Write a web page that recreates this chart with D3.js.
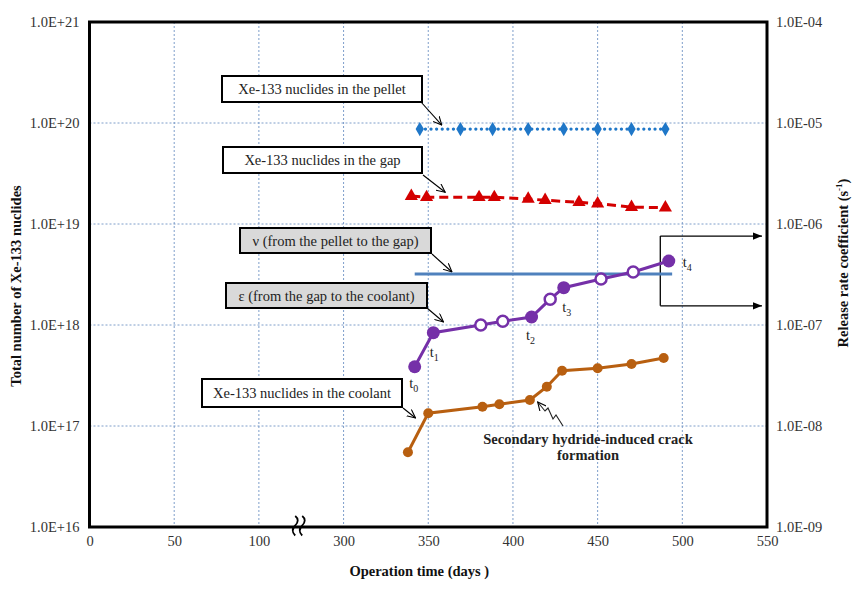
<!DOCTYPE html>
<html><head><meta charset="utf-8">
<script src="https://cdn.jsdelivr.net/npm/d3@7"></script>
<style>
body{margin:0;background:#fff}
</style>
</head><body>
<svg id="c" width="868" height="594"></svg>
<script>
// ---------------- data ----------------
const xTickLabels = [0, 50, 100, 300, 350, 400, 450, 500, 550];
const leftTicks = [1e16, 1e17, 1e18, 1e19, 1e20, 1e21];
const leftTickLabels = ["1.0E+16","1.0E+17","1.0E+18","1.0E+19","1.0E+20","1.0E+21"];
const rightTicks = [1e-9, 1e-8, 1e-7, 1e-6, 1e-5, 1e-4];
const rightTickLabels = ["1.0E-09","1.0E-08","1.0E-07","1.0E-06","1.0E-05","1.0E-04"];

const pelletDays = [345, 369, 388, 409, 430, 450, 470, 490];
const pelletVals = [8.7e19, 8.7e19, 8.7e19, 8.7e19, 8.7e19, 8.7e19, 8.7e19, 8.7e19];

const gapDays = [340, 349, 380, 389, 409, 419, 439, 450, 470, 490];
const gapVals = [1.89e19, 1.84e19, 1.84e19, 1.84e19, 1.77e19, 1.72e19, 1.64e19, 1.59e19, 1.47e19, 1.45e19];

const nuDays = [342, 494];
const nuVals = [3.2e-7, 3.2e-7];

const epsDays = [342, 353, 381, 394, 411, 422, 430, 452, 471, 492];
const epsVals = [3.86e-8, 8.4e-8, 1.0e-7, 1.09e-7, 1.2e-7, 1.8e-7, 2.34e-7, 2.85e-7, 3.35e-7, 4.3e-7];
const epsFilled = [true, true, false, false, true, false, true, false, false, true];
const epsLabels = ["0", "1", null, null, "2", null, "3", null, null, "4"];

const coolDays = [338, 350, 382, 392, 410, 420, 429, 450, 470, 489];
const coolVals = [5.5e16, 1.34e17, 1.55e17, 1.64e17, 1.81e17, 2.45e17, 3.53e17, 3.73e17, 4.11e17, 4.71e17];

// ---------------- font pick ----------------
function pickFont(cands) {
  const c = document.createElement("canvas").getContext("2d");
  const s = "abcdefghijklmnopqrstuvwxyzWMil0123456789";
  for (const f of cands) {
    c.font = `20px "${f}", monospace`; const w1 = c.measureText(s).width;
    c.font = `20px "${f}", sans-serif`; const w2 = c.measureText(s).width;
    if (Math.abs(w1 - w2) < 0.01) return `"${f}"`;
  }
  return "serif";
}
const FONT = pickFont(["Liberation Serif", "Times New Roman", "Tinos", "Nimbus Roman", "DejaVu Serif", "Noto Serif"]);
document.head.insertAdjacentHTML("beforeend", `<style>svg text{font-family:${FONT}, serif !important}</style>`);

// ---------------- layout ----------------
const svg = d3.select("#c");
const L = 89.5, R = 767, T = 22, B = 527;
const brk = d => d <= 100 ? d : d - 150;   // broken axis: 100 | 300
const x = d3.scaleLinear().domain([0, 400]).range([L, R]);
const yL = d3.scaleLog().domain([1e16, 1e21]).range([B, T]);
const yR = d3.scaleLog().domain([1e-9, 1e-4]).range([B, T]);
const X = d => x(brk(d));

const defs = svg.append("defs");
defs.append("marker").attr("id","open").attr("viewBox","0 0 10 10")
  .attr("refX",9.5).attr("refY",5).attr("markerWidth",9).attr("markerHeight",9)
  .attr("markerUnits","userSpaceOnUse").attr("orient","auto")
  .append("path").attr("d","M0,0.5 L9.5,5 L0,9.5").attr("fill","none").attr("stroke","#000").attr("stroke-width",1.2);
defs.append("marker").attr("id","solid").attr("viewBox","0 0 10 10")
  .attr("refX",10).attr("refY",5).attr("markerWidth",10).attr("markerHeight",9)
  .attr("markerUnits","userSpaceOnUse").attr("orient","auto")
  .append("path").attr("d","M0,1 L10,5 L0,9 Z").attr("fill","#000");

// grid
const gridColor = "#6f93c4";
const xTickPos = xTickLabels.map(brk);
svg.append("g").selectAll("line").data(xTickPos.slice(1, -1)).join("line")
  .attr("x1", d => x(d)).attr("x2", d => x(d)).attr("y1", T).attr("y2", B)
  .attr("stroke", gridColor).attr("stroke-width", 0.9).attr("stroke-dasharray", "2,2");
svg.append("g").selectAll("line").data(leftTicks.slice(1, -1)).join("line")
  .attr("x1", L).attr("x2", R).attr("y1", d => yL(d)).attr("y2", d => yL(d))
  .attr("stroke", gridColor).attr("stroke-width", 0.9).attr("stroke-dasharray", "2,2");

// axes (labels only)
const axB = d3.axisBottom(x).tickValues(xTickPos).tickSize(0).tickPadding(9)
  .tickFormat((d, i) => xTickLabels[i]);
const gB = svg.append("g").attr("transform", `translate(0,${B})`).call(axB);
const axLf = d3.axisLeft(yL).tickValues(leftTicks).tickSize(0).tickPadding(10)
  .tickFormat((d, i) => leftTickLabels[i]);
const gL = svg.append("g").attr("transform", `translate(${L},0)`).call(axLf);
const axRt = d3.axisRight(yR).tickValues(rightTicks).tickSize(0).tickPadding(9)
  .tickFormat((d, i) => rightTickLabels[i]);
const gR = svg.append("g").attr("transform", `translate(${R},0)`).call(axRt);
[gB, gL, gR].forEach(g => {
  g.select(".domain").remove();
  g.attr("font-family", null).attr("font-size", null);
  g.selectAll("text").attr("font-size", 14.5).attr("fill", "#333");
});

// plot border
svg.append("rect").attr("x", L).attr("y", T).attr("width", R - L).attr("height", B - T)
  .attr("fill", "none").attr("stroke", "#000").attr("stroke-width", 3);

// axis break symbol
const bx = (x(100) + x(150)) / 2 - 2;
[bx - 4, bx + 3].forEach(cx => {
  svg.append("path")
    .attr("d", `M${cx},516 q5,4 0,9.5 q-5,5 0,10`)
    .attr("fill", "none").attr("stroke", "#000").attr("stroke-width", 1.8);
});

// axis titles
svg.append("text").attr("x", (L + R) / 2 - 9).attr("y", 576).attr("text-anchor", "middle")
  .attr("font-weight", "bold").attr("font-size", 14.5).attr("fill", "#111").text("Operation time (days )");
svg.append("text").attr("transform", "translate(21,286) rotate(-90)").attr("text-anchor", "middle")
  .attr("font-weight", "bold").attr("font-size", 14.5).attr("fill", "#111").text("Total number of Xe-133 nuclides");
const rt = svg.append("text").attr("transform", "translate(848,263) rotate(-90)").attr("text-anchor", "middle")
  .attr("font-weight", "bold").attr("font-size", 14.5).attr("fill", "#111");
rt.append("tspan").text("Release rate coefficient  (s");
rt.append("tspan").attr("font-size", 9).attr("dy", -6).text("-1");
rt.append("tspan").attr("dy", 6).text(")");

// annotation boxes
const boxes = [
  {t: "Xe-133 nuclides in the pellet", x0: 222, y0: 76, x1: 422, y1: 102, fill: "#fff", ax: [421, 102], tip: [X(358), yL(pelletVals[0]) - 4]},
  {t: "Xe-133 nuclides in the gap", x0: 223, y0: 147, x1: 422, y1: 173, fill: "#fff", ax: [423, 175], tip: [X(360), yL(1.84e19) - 5]},
  {t: "\u03BD (from the pellet to the gap)", x0: 240, y0: 228, x1: 431, y1: 253, fill: "#d9d9d9", ax: [432, 254], tip: [X(364), yR(nuVals[0]) - 2]},
  {t: "\u03B5 (from the gap to the coolant)", x0: 226, y0: 283, x1: 427, y1: 308, fill: "#d9d9d9", ax: [427, 308], tip: [X(359), yR(1.0e-7) - 3]},
  {t: "Xe-133 nuclides in the coolant", x0: 202, y0: 379, x1: 402, y1: 407, fill: "#fff", ax: [403, 408], tip: [X(342.5), yL(1.2e17)]}
];
const ag = svg.append("g");
boxes.forEach(b => {
  ag.append("line").attr("x1", b.ax[0]).attr("y1", b.ax[1]).attr("x2", b.tip[0]).attr("y2", b.tip[1])
    .attr("stroke", "#000").attr("stroke-width", 1.1).attr("marker-end", "url(#open)");
  ag.append("rect").attr("x", b.x0).attr("y", b.y0).attr("width", b.x1 - b.x0).attr("height", b.y1 - b.y0)
    .attr("fill", b.fill).attr("stroke", "#000").attr("stroke-width", 2);
  ag.append("text").attr("x", (b.x0 + b.x1) / 2).attr("y", (b.y0 + b.y1) / 2 + 5).attr("text-anchor", "middle")
    .attr("font-size", 14.5).attr("fill", "#222").text(b.t);
});

// bracket arrows on the right
const bxk = X(487);
ag.append("path").attr("d", `M${bxk},${yR(7.6e-7)} L${bxk},${yR(1.55e-7)}`).attr("stroke", "#000").attr("stroke-width", 1.3).attr("fill", "none");
[7.6e-7, 1.55e-7].forEach(v => {
  ag.append("line").attr("x1", bxk).attr("x2", R - 5).attr("y1", yR(v)).attr("y2", yR(v))
    .attr("stroke", "#000").attr("stroke-width", 1.3).attr("marker-end", "url(#solid)");
});

// secondary crack annotation
const ct = svg.append("text").attr("text-anchor", "middle").attr("font-weight", "bold")
  .attr("font-size", 14.5).attr("fill", "#222");
ct.append("tspan").attr("x", 588).attr("y", 444).text("Secondary hydride-induced crack");
ct.append("tspan").attr("x", 588).attr("y", 460).text("formation");
const tipC = [X(414) + 1, yL(coolVals[4]) + 2];
svg.append("path")
  .attr("d", `M563,426 L556,415 L553,419 L548,408 L545,411 L${tipC[0]},${tipC[1]}`)
  .attr("fill", "none").attr("stroke", "#222").attr("stroke-width", 1.1).attr("marker-end", "url(#open)");

// ---------------- series ----------------
const line = (xs, ys, ysc) => d3.line().x((d, i) => X(xs[i])).y((d, i) => ysc(ys[i]))(xs);

svg.append("path").attr("d", line(nuDays, nuVals, yR)).attr("fill", "none")
  .attr("stroke", "#4f81bd").attr("stroke-width", 2.8);

const blue = "#1f77c8";
svg.append("path").attr("d", line(pelletDays, pelletVals, yL)).attr("fill", "none")
  .attr("stroke", blue).attr("stroke-width", 3.2).attr("stroke-linecap", "round").attr("stroke-dasharray", "0.1,5.5");
svg.append("g").selectAll("path").data(pelletDays).join("path")
  .attr("d", d3.symbol(d3.symbolDiamond, 60))
  .attr("transform", (d, i) => `translate(${X(d)},${yL(pelletVals[i])})`).attr("fill", blue);

const red = "#d40000";
svg.append("path").attr("d", line(gapDays, gapVals, yL)).attr("fill", "none")
  .attr("stroke", red).attr("stroke-width", 3).attr("stroke-dasharray", "9,5");
svg.append("g").selectAll("path").data(gapDays).join("path")
  .attr("d", d3.symbol(d3.symbolTriangle, 75))
  .attr("transform", (d, i) => `translate(${X(d)},${yL(gapVals[i])})`).attr("fill", red);

const brown = "#b85f10";
svg.append("path").attr("d", line(coolDays, coolVals, yL)).attr("fill", "none")
  .attr("stroke", brown).attr("stroke-width", 3);
svg.append("g").selectAll("circle").data(coolDays).join("circle")
  .attr("cx", d => X(d)).attr("cy", (d, i) => yL(coolVals[i])).attr("r", 5).attr("fill", brown);

const purple = "#7530a8";
svg.append("path").attr("d", line(epsDays, epsVals, yR)).attr("fill", "none")
  .attr("stroke", purple).attr("stroke-width", 3);
svg.append("g").selectAll("circle").data(epsDays).join("circle")
  .attr("cx", d => X(d)).attr("cy", (d, i) => yR(epsVals[i]))
  .attr("r", (d, i) => epsFilled[i] ? 6.5 : 5.5)
  .attr("fill", (d, i) => epsFilled[i] ? purple : "#fff")
  .attr("stroke", purple).attr("stroke-width", (d, i) => epsFilled[i] ? 0 : 2.5);

const labOff = [[-1, 21], [1, 24], [-1, 23], [3, 24], [14, 6]];
let li = 0;
epsDays.forEach((d, i) => {
  if (epsLabels[i] === null) return;
  const o = labOff[li++];
  const t = svg.append("text").attr("x", X(d) + o[0]).attr("y", yR(epsVals[i]) + o[1])
    .attr("text-anchor", o[0] > 10 ? "start" : "middle").attr("font-size", 14.5).attr("fill", "#222");
  t.append("tspan").text("t");
  t.append("tspan").attr("font-size", 10).attr("dy", 4).text(epsLabels[i]);
});
</script>
</body></html>
